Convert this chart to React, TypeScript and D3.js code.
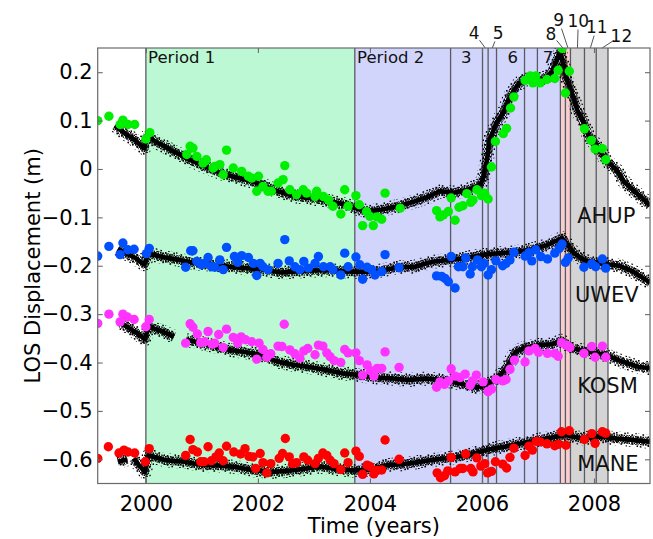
import React, { useRef, useEffect } from "react";
import * as d3 from "d3";

type Pt = [number, number | null];

// period boundaries (years)
const periodBounds = [
  2000.0, 2003.73, 2005.44, 2006.01, 2006.11, 2006.26, 2006.76, 2006.99,
  2007.4, 2007.49, 2007.58, 2007.83, 2008.04, 2008.25,
];

// shaded spans
const shadeSpans = [
  { from: 2000.0, to: 2003.73, kind: "p1" },
  { from: 2003.73, to: 2007.4, kind: "p2" },
  { from: 2007.4, to: 2007.58, kind: "p8" },
  { from: 2007.58, to: 2008.25, kind: "p10" },
];

// labels inside the plot (year = left / center anchor)
const insideLabels = [
  { text: "Period 1", year: 2000.04, anchor: "start" },
  { text: "Period 2", year: 2003.77, anchor: "start" },
  { text: "3", year: 2005.72, anchor: "middle" },
  { text: "6", year: 2006.55, anchor: "middle" },
  { text: "7", year: 2007.18, anchor: "middle" },
];

// labels above the plot: label centre year + period it points to
const outsideLabels = [
  { text: "4", year: 2005.86, from: 2006.01, to: 2006.11 },
  { text: "5", year: 2006.29, from: 2006.11, to: 2006.26 },
  { text: "8", year: 2007.23, from: 2007.4, to: 2007.49 },
  { text: "9", year: 2007.37, from: 2007.49, to: 2007.58 },
  { text: "10", year: 2007.72, from: 2007.58, to: 2007.83 },
  { text: "11", year: 2008.05, from: 2007.83, to: 2008.04 },
  { text: "12", year: 2008.49, from: 2008.04, to: 2008.25 },
];
const outsideLabelY = [33, 33, 33.5, 20, 20.5, 27, 35.5];

const xTicks = [2000, 2002, 2004, 2006, 2008];
const yTicks = [-0.6, -0.5, -0.4, -0.3, -0.2, -0.1, 0, 0.1, 0.2];

// GPS (black) series
const ahupGps: Pt[] = [
  [1999.45, 0.09], [1999.6, 0.076], [1999.8, 0.06], [1999.97, 0.043],
  [2000.02, 0.067], [2000.2, 0.055], [2000.5, 0.036], [2000.8, 0.018],
  [2001.1, 0.003], [2001.4, -0.011], [2001.77, -0.022], [2002.07, -0.032],
  [2002.35, -0.046], [2002.69, -0.057], [2003.0, -0.061], [2003.29, -0.067],
  [2003.58, -0.074], [2003.8, -0.083], [2003.97, -0.088], [2004.2, -0.084],
  [2004.5, -0.077], [2004.8, -0.067], [2005.05, -0.057], [2005.25, -0.046],
  [2005.5, -0.049], [2005.75, -0.043], [2005.97, -0.032], [2006.02, -0.02],
  [2006.08, 0.012], [2006.14, 0.061], [2006.26, 0.095], [2006.38, 0.116],
  [2006.5, 0.15], [2006.62, 0.171], [2006.74, 0.185], [2006.95, 0.186],
  [2007.1, 0.186], [2007.25, 0.2], [2007.4, 0.243], [2007.5, 0.19],
  [2007.6, 0.16], [2007.7, 0.122], [2007.8, 0.1], [2007.9, 0.07],
  [2008.1, 0.04], [2008.2, 0.02], [2008.4, -0.002], [2008.55, -0.028],
  [2008.7, -0.044], [2008.9, -0.064], [2009.0, -0.076],
];

const uwevGps: Pt[] = [
  [1999.5, -0.165], [1999.65, -0.175], [1999.8, -0.183], [1999.97, -0.197],
  [2000.05, -0.175], [2000.3, -0.182], [2000.6, -0.188], [2000.9, -0.195],
  [2001.2, -0.198], [2001.5, -0.202], [2001.8, -0.205], [2002.1, -0.208],
  [2002.4, -0.214], [2002.7, -0.212], [2003.0, -0.21], [2003.3, -0.209],
  [2003.6, -0.212], [2003.9, -0.213], [2004.2, -0.21], [2004.5, -0.203],
  [2004.8, -0.202], [2005.1, -0.192], [2005.4, -0.188], [2005.7, -0.184],
  [2006.0, -0.178], [2006.3, -0.174], [2006.6, -0.172], [2006.9, -0.166],
  [2007.15, -0.158], [2007.3, -0.15], [2007.43, -0.143], [2007.55, -0.16],
  [2007.65, -0.175], [2007.85, -0.19], [2008.15, -0.196], [2008.45, -0.2],
  [2008.7, -0.212], [2009.0, -0.235],
];

const kosmGps: Pt[] = [
  [1999.55, -0.318], [1999.7, -0.329], [1999.85, -0.34], [1999.98, -0.352],
  [2000.05, -0.326], [2000.3, -0.336], [2000.5, -0.347], [2000.6, null],
  [2000.72, -0.353], [2001.0, -0.36], [2001.25, -0.367], [2001.5, -0.374],
  [2001.75, -0.378], [2002.05, -0.384], [2002.35, -0.398], [2002.6, -0.404],
  [2002.9, -0.409], [2003.2, -0.415], [2003.5, -0.422], [2003.8, -0.426],
  [2004.1, -0.431], [2004.4, -0.433], [2004.7, -0.436], [2005.0, -0.433],
  [2005.3, -0.436], [2005.6, -0.443], [2005.9, -0.452], [2006.1, -0.444],
  [2006.3, -0.43], [2006.45, -0.409], [2006.6, -0.378], [2006.75, -0.37],
  [2007.0, -0.364], [2007.25, -0.362], [2007.42, -0.355], [2007.6, -0.37],
  [2007.9, -0.378], [2008.2, -0.384], [2008.5, -0.398], [2008.8, -0.409],
  [2009.0, -0.412],
];

const maneGps: Pt[] = [
  [1999.5, -0.605], [1999.67, -0.6], [1999.72, null], [1999.78, -0.598],
  [1999.9, -0.615], [1999.98, -0.626], [2000.05, -0.592], [2000.35, -0.602],
  [2000.7, -0.605], [2001.0, -0.612], [2001.3, -0.613], [2001.6, -0.616],
  [2001.9, -0.622], [2002.2, -0.626], [2002.5, -0.624], [2002.8, -0.62],
  [2003.1, -0.615], [2003.4, -0.62], [2003.7, -0.623], [2004.0, -0.621],
  [2004.3, -0.612], [2004.6, -0.61], [2004.9, -0.605], [2005.2, -0.6],
  [2005.5, -0.596], [2005.8, -0.59], [2006.1, -0.58], [2006.4, -0.574],
  [2006.7, -0.567], [2007.0, -0.56], [2007.3, -0.554], [2007.5, -0.55],
  [2007.8, -0.557], [2008.1, -0.553], [2008.4, -0.557], [2008.7, -0.56],
  [2009.0, -0.564],
];

// InSAR (coloured) series
const ahupInsar: [number, number][] = [
  [1999.14, 0.1], [1999.34, 0.109], [1999.54, 0.092], [1999.59, 0.101], [1999.68, 0.092],
  [1999.8, 0.092], [2000.0, 0.062], [2000.07, 0.075], [2000.73, 0.03], [2000.79, 0.047],
  [2000.84, 0.043], [2000.91, 0.026], [2001.02, 0.012], [2001.08, 0.019], [2001.2, 0.002],
  [2001.23, 0.005], [2001.32, 0.009], [2001.38, -0.012], [2001.44, 0.039], [2001.56, 0.002],
  [2001.71, -0.005], [2001.83, -0.015], [2001.89, -0.019], [2002.01, -0.015], [2001.98, -0.046],
  [2002.09, -0.036], [2002.18, -0.046], [2002.24, -0.046], [2002.36, -0.029], [2002.45, -0.022],
  [2002.48, 0.007], [2002.57, -0.043], [2002.69, -0.053], [2002.81, -0.043], [2002.87, -0.05],
  [2003.05, -0.046], [2003.02, -0.057], [2003.17, -0.057], [2003.26, -0.064], [2003.34, -0.077],
  [2003.48, -0.093], [2003.55, -0.043], [2003.61, -0.077], [2003.75, -0.055], [2003.81, -0.074],
  [2003.87, -0.117], [2003.94, -0.088], [2004.0, -0.098], [2004.06, -0.117], [2004.13, -0.099],
  [2004.21, -0.104], [2004.27, -0.05], [2004.54, -0.081], [2005.19, -0.086], [2005.25, -0.099],
  [2005.31, -0.095], [2005.4, -0.088], [2005.45, -0.06], [2005.52, -0.106], [2005.59, -0.079],
  [2005.66, -0.076], [2005.73, -0.051], [2005.8, -0.069], [2005.84, -0.064], [2005.91, -0.043],
  [2005.99, -0.055], [2006.05, -0.05], [2006.11, -0.062], [2006.17, 0.004], [2006.24, 0.057],
  [2006.38, 0.073], [2006.44, 0.084], [2006.51, 0.126], [2006.57, 0.149], [2006.77, 0.183],
  [2006.86, 0.192], [2006.91, 0.178], [2006.96, 0.192], [2007.04, 0.178], [2007.16, 0.185],
  [2007.3, 0.187], [2007.36, 0.204], [2007.43, 0.249], [2007.49, 0.157], [2007.56, 0.202],
  [2007.83, 0.083], [2007.95, 0.059], [2008.02, 0.041], [2008.15, 0.042], [2008.21, 0.019],
];

const uwevInsar: [number, number][] = [
  [1999.14, -0.18], [1999.34, -0.16], [1999.54, -0.177], [1999.59, -0.153], [1999.68, -0.167],
  [1999.79, -0.166], [2000.01, -0.175], [2000.06, -0.164], [2000.71, -0.203], [2000.8, -0.169],
  [2000.84, -0.169], [2000.91, -0.191], [2000.99, -0.198], [2001.05, -0.195], [2001.11, -0.183],
  [2001.17, -0.202], [2001.23, -0.203], [2001.32, -0.188], [2001.38, -0.208], [2001.44, -0.162],
  [2001.58, -0.181], [2001.64, -0.193], [2001.71, -0.179], [2001.83, -0.183], [2001.92, -0.195],
  [2002.04, -0.195], [2001.98, -0.22], [2002.09, -0.202], [2002.18, -0.208], [2002.36, -0.195],
  [2002.48, -0.146], [2002.56, -0.19], [2002.66, -0.202], [2002.75, -0.208], [2002.82, -0.191],
  [2002.9, -0.205], [2003.02, -0.195], [2003.08, -0.181], [2003.17, -0.202], [2003.29, -0.202],
  [2003.34, -0.208], [2003.48, -0.219], [2003.55, -0.174], [2003.61, -0.202], [2003.75, -0.182],
  [2003.82, -0.198], [2003.87, -0.228], [2003.95, -0.203], [2004.03, -0.208], [2004.09, -0.219],
  [2004.21, -0.212], [2004.27, -0.177], [2004.52, -0.204], [2005.19, -0.221], [2005.28, -0.222],
  [2005.34, -0.226], [2005.4, -0.233], [2005.45, -0.181], [2005.52, -0.246], [2005.58, -0.202],
  [2005.66, -0.202], [2005.71, -0.184], [2005.79, -0.217], [2005.83, -0.202], [2005.92, -0.188],
  [2005.99, -0.202], [2006.04, -0.195], [2006.11, -0.219], [2006.17, -0.208], [2006.25, -0.19],
  [2006.37, -0.2], [2006.43, -0.195], [2006.5, -0.188], [2006.57, -0.172], [2006.77, -0.18],
  [2006.84, -0.173], [2006.89, -0.19], [2006.96, -0.167], [2007.05, -0.181], [2007.17, -0.186],
  [2007.3, -0.174], [2007.38, -0.164], [2007.43, -0.155], [2007.49, -0.193], [2007.54, -0.184],
  [2007.82, -0.203], [2007.96, -0.196], [2008.03, -0.202], [2008.15, -0.186], [2008.21, -0.205],
];

const kosmInsar: [number, number][] = [
  [1999.14, -0.319], [1999.34, -0.3], [1999.54, -0.316], [1999.59, -0.3], [1999.67, -0.306],
  [1999.79, -0.311], [2000.0, -0.326], [2000.06, -0.311], [2000.71, -0.36], [2000.79, -0.32],
  [2000.84, -0.327], [2000.92, -0.341], [2000.98, -0.359], [2001.05, -0.357], [2001.11, -0.336],
  [2001.18, -0.362], [2001.23, -0.36], [2001.3, -0.342], [2001.38, -0.369], [2001.44, -0.331],
  [2001.56, -0.348], [2001.64, -0.36], [2001.7, -0.347], [2001.78, -0.353], [2001.89, -0.357],
  [2001.98, -0.393], [2002.02, -0.36], [2002.09, -0.373], [2002.16, -0.389], [2002.23, -0.382],
  [2002.36, -0.366], [2002.43, -0.367], [2002.47, -0.321], [2002.57, -0.374], [2002.66, -0.382],
  [2002.75, -0.391], [2002.82, -0.376], [2002.89, -0.371], [2003.02, -0.384], [2003.08, -0.364],
  [2003.16, -0.366], [2003.23, -0.38], [2003.29, -0.388], [2003.36, -0.396], [2003.48, -0.4],
  [2003.55, -0.373], [2003.61, -0.38], [2003.75, -0.38], [2003.81, -0.396], [2003.87, -0.426],
  [2003.95, -0.405], [2004.01, -0.417], [2004.07, -0.428], [2004.13, -0.412], [2004.21, -0.412],
  [2004.27, -0.378], [2004.52, -0.41], [2005.19, -0.451], [2005.25, -0.44], [2005.33, -0.445],
  [2005.4, -0.438], [2005.45, -0.413], [2005.52, -0.428], [2005.61, -0.431], [2005.7, -0.424],
  [2005.79, -0.447], [2005.83, -0.438], [2005.9, -0.426], [2006.02, -0.44], [2006.11, -0.46],
  [2006.17, -0.455], [2006.25, -0.435], [2006.37, -0.438], [2006.43, -0.435], [2006.5, -0.414],
  [2006.58, -0.395], [2006.77, -0.399], [2006.84, -0.376], [2006.95, -0.371], [2007.01, -0.379],
  [2007.17, -0.381], [2007.3, -0.381], [2007.36, -0.387], [2007.42, -0.359], [2007.51, -0.364],
  [2007.57, -0.369], [2007.82, -0.381], [2007.96, -0.367], [2008.02, -0.389], [2008.15, -0.366],
  [2008.21, -0.389],
];

const maneInsar: [number, number][] = [
  [1999.14, -0.598], [1999.33, -0.574], [1999.52, -0.587], [1999.61, -0.581], [1999.68, -0.585],
  [1999.8, -0.587], [1999.99, -0.605], [2000.06, -0.578], [2000.71, -0.592], [2000.79, -0.559],
  [2000.84, -0.58], [2000.92, -0.585], [2000.98, -0.605], [2001.04, -0.605], [2001.11, -0.574],
  [2001.17, -0.603], [2001.25, -0.595], [2001.31, -0.587], [2001.38, -0.603], [2001.44, -0.573],
  [2001.57, -0.585], [2001.69, -0.589], [2001.77, -0.578], [2001.84, -0.594], [2001.91, -0.595],
  [2001.96, -0.619], [2002.04, -0.588], [2002.09, -0.607], [2002.16, -0.628], [2002.23, -0.609],
  [2002.38, -0.598], [2002.44, -0.588], [2002.49, -0.557], [2002.56, -0.595], [2002.62, -0.609],
  [2002.69, -0.607], [2002.82, -0.595], [2002.89, -0.602], [2003.02, -0.609], [2003.08, -0.598],
  [2003.16, -0.587], [2003.23, -0.592], [2003.29, -0.602], [2003.36, -0.609], [2003.48, -0.621],
  [2003.55, -0.587], [2003.61, -0.607], [2003.75, -0.583], [2003.81, -0.594], [2003.87, -0.631],
  [2003.95, -0.612], [2004.0, -0.615], [2004.07, -0.63], [2004.13, -0.623], [2004.21, -0.622],
  [2004.27, -0.56], [2004.52, -0.6], [2005.2, -0.628], [2005.26, -0.638], [2005.33, -0.634],
  [2005.39, -0.624], [2005.45, -0.596], [2005.52, -0.626], [2005.61, -0.619], [2005.66, -0.619],
  [2005.71, -0.589], [2005.8, -0.619], [2005.84, -0.626], [2005.91, -0.597], [2005.98, -0.614],
  [2006.05, -0.609], [2006.1, -0.628], [2006.17, -0.625], [2006.24, -0.605], [2006.37, -0.61],
  [2006.44, -0.618], [2006.5, -0.596], [2006.57, -0.577], [2006.77, -0.592], [2006.84, -0.573],
  [2006.9, -0.581], [2006.97, -0.563], [2007.04, -0.564], [2007.16, -0.568], [2007.3, -0.572],
  [2007.36, -0.569], [2007.42, -0.543], [2007.5, -0.571], [2007.56, -0.541], [2007.83, -0.559],
  [2007.96, -0.547], [2008.02, -0.567], [2008.15, -0.543], [2008.21, -0.546],
];

const stationNames = ["AHUP", "UWEV", "KOSM", "MANE"];
const stationGps = [ahupGps, uwevGps, kosmGps, maneGps];
const stationInsar = [ahupInsar, uwevInsar, kosmInsar, maneInsar];
// label anchor (year, baseline value)
const stationLabelPos: [number, number][] = [
  [2007.7, -0.112], [2007.66, -0.275], [2007.7, -0.463], [2007.7, -0.624],
];

const shadeColors: Record<string, string> = {
  p1: "#bdf8d4",
  p2: "#d1d5fb",
  p8: "#f8cfcf",
  p10: "#d4d4d4",
};
const dotColors = ["#00ee00", "#0050ff", "#ff33ff", "#ff0000"];

const FONT = "DejaVu Sans, sans-serif";

const App = () => {
  const svgRef = useRef<SVGSVGElement>(null);

  useEffect(() => {
    document.body.style.margin = "0";
    if (!svgRef.current) return;
    const width = 653;
    const height = 539;

    const x = d3.scaleLinear().domain([1999.14, 2009]).range([97.7, 650]);
    const y = d3.scaleLinear().domain([-0.65, 0.25]).range([483.5, 48]);
    const [x0, x1] = x.range();
    const [yb, yt] = y.range();

    const root = d3.select(svgRef.current);
    root.selectAll("*").remove();
    const svg = root.attr("width", width).attr("height", height);

    const defs = svg.append("defs");
    defs
      .append("clipPath")
      .attr("id", "plot-clip")
      .append("rect")
      .attr("x", x0)
      .attr("y", yt)
      .attr("width", x1 - x0)
      .attr("height", yb - yt);

    // speckle textures for the dense GPS clouds
    const sparse = defs
      .append("pattern")
      .attr("id", "speckle-sparse")
      .attr("patternUnits", "userSpaceOnUse")
      .attr("width", 11)
      .attr("height", 9);
    [[0, 0], [4.5, 2.2], [8.3, 0.6], [1.8, 5.1], [6.4, 6.8], [9.6, 4.4], [3.2, 7.9]].forEach(([px, py]) =>
      sparse.append("rect").attr("x", px).attr("y", py).attr("width", 1.6).attr("height", 1.6).attr("fill", "#000")
    );
    const dense = defs
      .append("pattern")
      .attr("id", "speckle-dense")
      .attr("patternUnits", "userSpaceOnUse")
      .attr("width", 5)
      .attr("height", 4);
    [[0, 0], [2.4, 0.4], [1.2, 2.1], [3.6, 2.4]].forEach(([px, py]) =>
      dense.append("rect").attr("x", px).attr("y", py).attr("width", 1.7).attr("height", 1.7).attr("fill", "#000")
    );

    const plot = svg.append("g").attr("clip-path", "url(#plot-clip)");

    // shaded periods
    plot
      .selectAll("rect.shade")
      .data(shadeSpans)
      .join("rect")
      .attr("class", "shade")
      .attr("x", (d) => x(d.from))
      .attr("width", (d) => x(d.to) - x(d.from))
      .attr("y", yt)
      .attr("height", yb - yt)
      .attr("fill", (d) => shadeColors[d.kind]);

    // period boundaries
    plot
      .selectAll("line.bound")
      .data(periodBounds)
      .join("line")
      .attr("x1", (d) => x(d))
      .attr("x2", (d) => x(d))
      .attr("y1", yt)
      .attr("y2", yb)
      .attr("stroke", "#5a5a64")
      .attr("stroke-width", 1.3);

    // GPS clouds
    const line = d3
      .line<Pt>()
      .defined((d) => d[1] !== null)
      .x((d) => x(d[0]))
      .y((d) => y(d[1] as number));

    stationGps.forEach((gps) => {
      plot
        .append("path")
        .attr("d", line(gps))
        .attr("fill", "none")
        .attr("stroke", "url(#speckle-sparse)")
        .attr("stroke-width", 14)
        .attr("stroke-linejoin", "round");
      plot
        .append("path")
        .attr("d", line(gps))
        .attr("fill", "none")
        .attr("stroke", "url(#speckle-dense)")
        .attr("stroke-width", 9)
        .attr("stroke-linejoin", "round");
      plot
        .append("path")
        .attr("d", line(gps))
        .attr("fill", "none")
        .attr("stroke", "#000")
        .attr("stroke-width", 4.5)
        .attr("stroke-linejoin", "round");
    });

    // InSAR points
    stationInsar.forEach((pts, i) => {
      plot
        .append("g")
        .selectAll("circle")
        .data(pts)
        .join("circle")
        .attr("cx", (d) => x(d[0]))
        .attr("cy", (d) => y(d[1]))
        .attr("r", 4.7)
        .attr("fill", dotColors[i]);
    });

    // station labels
    svg
      .append("g")
      .selectAll("text")
      .data(stationNames)
      .join("text")
      .attr("x", (_, i) => x(stationLabelPos[i][0]))
      .attr("y", (_, i) => y(stationLabelPos[i][1]))
      .attr("font-family", FONT)
      .attr("font-size", 21)
      .attr("fill", "#111")
      .text((d) => d);

    // inside period labels
    svg
      .append("g")
      .selectAll("text")
      .data(insideLabels)
      .join("text")
      .attr("x", (d) => x(d.year))
      .attr("y", 63)
      .attr("text-anchor", (d) => d.anchor)
      .attr("font-family", FONT)
      .attr("font-size", 16.5)
      .attr("fill", "#111")
      .text((d) => d.text);

    // outside labels with leaders
    const outer = svg.append("g");
    outsideLabels.forEach((d, i) => {
      const cx = x(d.year);
      const cy = outsideLabelY[i];
      const tx = x((d.from + d.to) / 2);
      const ty = yt;
      const len = Math.hypot(tx - cx, ty - cy);
      const sx = cx + ((tx - cx) / len) * 9;
      const sy = cy + ((ty - cy) / len) * 9;
      outer
        .append("line")
        .attr("x1", sx)
        .attr("y1", sy)
        .attr("x2", tx)
        .attr("y2", ty)
        .attr("stroke", "#555")
        .attr("stroke-width", 1);
      outer
        .append("text")
        .attr("x", cx)
        .attr("y", cy + 6)
        .attr("text-anchor", "middle")
        .attr("font-family", FONT)
        .attr("font-size", 17)
        .attr("fill", "#111")
        .text(d.text);
    });

    // frame
    svg
      .append("rect")
      .attr("x", x0)
      .attr("y", yt)
      .attr("width", x1 - x0)
      .attr("height", yb - yt)
      .attr("fill", "none")
      .attr("stroke", "#6a6a6a")
      .attr("stroke-width", 1.2);

    const styleAxis = (g: d3.Selection<SVGGElement, unknown, null, undefined>) => {
      g.select(".domain").remove();
      g.selectAll(".tick line").attr("stroke", "#6a6a6a").attr("stroke-width", 1.1);
      g.selectAll(".tick text")
        .attr("font-family", FONT)
        .attr("font-size", 21)
        .attr("fill", "#000");
    };

    const yFmt = (v: d3.NumberValue) => (+v === 0 ? "0" : d3.format(".1f")(+v));

    svg
      .append("g")
      .attr("transform", `translate(0,${yb})`)
      .call(d3.axisBottom(x).tickValues(xTicks).tickFormat(d3.format("d")).tickSizeInner(-5).tickSizeOuter(0).tickPadding(13))
      .call(styleAxis);
    svg
      .append("g")
      .attr("transform", `translate(0,${yt})`)
      .call(d3.axisTop(x).tickValues(xTicks).tickFormat(() => "").tickSizeInner(-5).tickSizeOuter(0))
      .call(styleAxis);
    svg
      .append("g")
      .attr("transform", `translate(${x0},0)`)
      .call(d3.axisLeft(y).tickValues(yTicks).tickFormat(yFmt).tickSizeInner(-5).tickSizeOuter(0).tickPadding(5))
      .call(styleAxis);
    svg
      .append("g")
      .attr("transform", `translate(${x1},0)`)
      .call(d3.axisRight(y).tickValues(yTicks).tickFormat(() => "").tickSizeInner(-5).tickSizeOuter(0))
      .call(styleAxis);

    // axis titles
    svg
      .append("text")
      .attr("x", (x0 + x1) / 2)
      .attr("y", 533)
      .attr("text-anchor", "middle")
      .attr("font-family", FONT)
      .attr("font-size", 21)
      .text("Time (years)");
    svg
      .append("text")
      .attr("transform", `translate(40,${(yt + yb) / 2}) rotate(-90)`)
      .attr("text-anchor", "middle")
      .attr("font-family", FONT)
      .attr("font-size", 21)
      .text("LOS Displacement (m)");
  }, []);

  return (
    <div style={{ width: 653, height: 539 }}>
      <svg ref={svgRef} style={{ display: "block" }}></svg>
    </div>
  );
};

export default App;
